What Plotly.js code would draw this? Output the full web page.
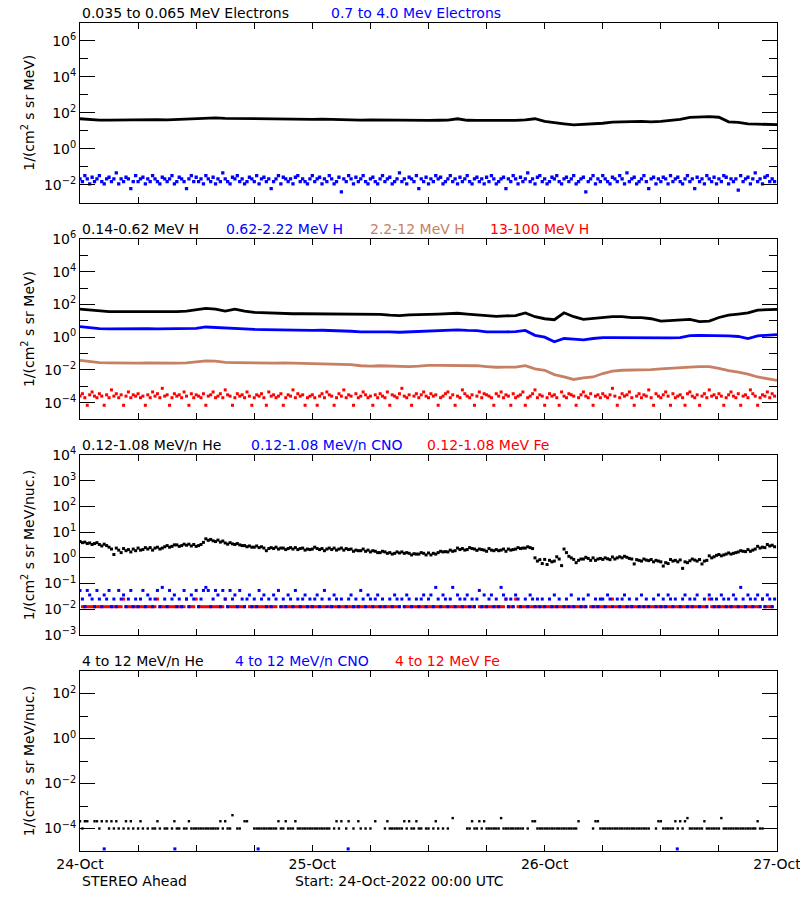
<!DOCTYPE html>
<html>
<head>
<meta charset="utf-8">
<script src="https://cdn.plot.ly/plotly-3.0.1.min.js"></script>
<style>body{margin:0;background:#fff}#chart{width:800px;height:900px}</style>
</head>
<body>
<div id="chart"></div>
<script>
// ---------------- DATA ----------------
const START = '2022-10-24 00:00';
const END = '2022-10-27 00:00';
const HOURLY_MIN = 60;    // cadence of the smooth series
const QUARTER_MIN = 15;   // cadence of the scattered series

// Panel 1: electrons
const e_low_035_065 = [46,42,39,39,40,39,41,40,41,40,42,44,50,53,52,49,48,47,46,47,46,45,46,44,43,44,42,41,40,39,40,39,40,38,37,38,37,38,39,46,38,37,37,38,36,37,40,46,33,27,24,21,22,24,26,30,32,32,33,31,33,38,42,55,60,60,56,31,29,24,23,23,22];
const e_high_07_40 = [
 0.021,0.015,0.032,0.021,0.011,0.026,0.015,0.021,0.032,0.015,0.011,0.021,0.026,0.015,0.021,0.045,0.011,0.021,0.015,0.026,0.021,0.006,0.015,0.032,
 0.015,0.021,0.026,0.011,0.021,0.015,0.032,0.021,0.015,0.011,0.026,0.021,0.015,0.021,0.032,0.011,0.015,0.026,0.021,0.015,0.006,0.021,0.032,0.015,
 0.026,0.015,0.021,0.011,0.032,0.021,0.015,0.026,0.011,0.021,0.015,0.045,0.021,0.015,0.011,0.026,0.021,0.032,0.015,0.021,0.011,0.015,0.026,0.021,
 0.015,0.032,0.011,0.021,0.026,0.015,0.021,0.006,0.015,0.021,0.032,0.011,0.026,0.021,0.015,0.021,0.011,0.026,0.032,0.015,0.021,0.015,0.011,0.021,
 0.032,0.015,0.021,0.026,0.011,0.021,0.015,0.032,0.021,0.011,0.015,0.026,0.004,0.021,0.015,0.032,0.021,0.011,0.026,0.015,0.021,0.032,0.015,0.011,
 0.021,0.026,0.015,0.011,0.021,0.032,0.015,0.021,0.026,0.011,0.015,0.021,0.045,0.015,0.021,0.011,0.026,0.021,0.015,0.032,0.006,0.021,0.015,0.026,
 0.011,0.021,0.015,0.032,0.021,0.026,0.011,0.015,0.021,0.032,0.015,0.021,0.011,0.026,0.015,0.021,0.032,0.015,0.011,0.021,0.026,0.015,0.021,0.011,
 0.026,0.015,0.032,0.021,0.011,0.015,0.021,0.026,0.006,0.021,0.015,0.032,0.021,0.011,0.026,0.015,0.021,0.045,0.015,0.021,0.011,0.026,0.032,0.015,
 0.021,0.011,0.015,0.026,0.021,0.032,0.015,0.011,0.021,0.026,0.015,0.021,0.032,0.011,0.015,0.021,0.026,0.004,0.015,0.021,0.032,0.011,0.021,0.015,
 0.032,0.021,0.015,0.011,0.026,0.021,0.015,0.032,0.021,0.011,0.045,0.015,0.021,0.026,0.011,0.015,0.021,0.032,0.015,0.006,0.021,0.026,0.011,0.021,
 0.015,0.026,0.021,0.011,0.032,0.015,0.021,0.026,0.015,0.011,0.021,0.032,0.015,0.021,0.006,0.026,0.015,0.021,0.011,0.032,0.021,0.015,0.026,0.011,
 0.021,0.015,0.032,0.026,0.011,0.021,0.015,0.021,0.005,0.032,0.015,0.021,0.026,0.011,0.021,0.045,0.015,0.021,0.011,0.026,0.032,0.015,0.021,0.015];

// Panel 2: protons
const h_014_062 = [52,45,37.5,36,36,36,36,34,36,36,36,39,45,57,52,39,52,39,33,31,28,27,27,27,27,26,26,26,25,25,25,25,22,21,23,23,25,26,28,29,26,23,20.5,18.6,20,21,30,17.8,13.4,11.7,31,17.8,12.3,14,15.5,17.8,17.8,15.5,15.5,13.4,9.7,10.2,11.2,12.3,8.9,9.7,16,22,26,31,45,50,50];
const h_062_222 = [4.4,3.7,3.3,3.2,3.3,3.2,3.2,3.3,3.2,3.2,3.3,3.2,3.5,4.2,3.9,3.4,3.3,3.1,3.0,2.9,2.8,2.7,2.65,2.7,2.6,2.65,2.6,2.6,2.3,2.1,2.15,2.1,2.1,2.0,2.1,2.1,2.3,2.4,2.5,2.8,2.6,2.5,2.1,2.0,2.1,2.2,2.6,1.3,1.0,0.52,0.83,0.76,0.69,0.83,0.95,0.95,0.93,0.95,0.95,0.93,0.83,0.9,0.95,1.25,1.3,1.3,1.25,1.2,1.1,0.83,1.2,1.35,1.45];
const h_22_12 = [0.038,0.031,0.028,0.027,0.026,0.027,0.026,0.027,0.026,0.027,0.026,0.027,0.030,0.036,0.034,0.029,0.028,0.027,0.027,0.026,0.026,0.027,0.026,0.024,0.023,0.022,0.022,0.021,0.021,0.018,0.017,0.018,0.017,0.017,0.016,0.017,0.019,0.019,0.019,0.020,0.019,0.018,0.016,0.0145,0.015,0.015,0.018,0.0115,0.0095,0.0052,0.0037,0.0026,0.0033,0.0037,0.006,0.0083,0.0095,0.0095,0.0105,0.0105,0.0115,0.013,0.0145,0.015,0.016,0.016,0.0126,0.009,0.0072,0.0055,0.0037,0.0028,0.0023];
const h_13_100 = [
 2.5e-4,3.5e-4,2.0e-4,6.9e-5,3.0e-4,4.5e-4,2.5e-4,2.0e-4,3.5e-4,2.5e-4,6.9e-5,3.0e-4,2.0e-4,6.0e-4,2.5e-4,3.5e-4,2.0e-4,3.0e-4,6.9e-5,2.5e-4,4.5e-4,2.0e-4,3.0e-4,2.5e-4,
 3.5e-4,2.0e-4,2.5e-4,6.9e-5,3.0e-4,2.0e-4,4.5e-4,2.5e-4,3.5e-4,2.0e-4,7.5e-4,2.5e-4,3.0e-4,6.9e-5,2.0e-4,3.5e-4,2.5e-4,3.0e-4,2.0e-4,4.5e-4,2.5e-4,6.9e-5,3.5e-4,2.0e-4,
 3.0e-4,2.5e-4,2.0e-4,3.5e-4,6.9e-5,2.5e-4,3.0e-4,4.5e-4,2.0e-4,2.5e-4,3.5e-4,2.0e-4,6.0e-4,3.0e-4,2.5e-4,6.9e-5,2.0e-4,3.5e-4,2.5e-4,3.0e-4,2.0e-4,4.5e-4,2.5e-4,6.9e-5,
 2.0e-4,3.0e-4,2.5e-4,3.5e-4,2.0e-4,6.9e-5,4.5e-4,2.5e-4,3.0e-4,2.0e-4,2.5e-4,3.5e-4,6.9e-5,2.0e-4,3.0e-4,2.5e-4,6.0e-4,2.0e-4,3.5e-4,2.5e-4,3.0e-4,6.9e-5,2.0e-4,2.5e-4,
 3.0e-4,2.0e-4,6.9e-5,2.5e-4,3.5e-4,2.0e-4,4.5e-4,3.0e-4,2.5e-4,6.9e-5,2.0e-4,3.5e-4,2.5e-4,6.0e-4,2.0e-4,3.0e-4,2.5e-4,6.9e-5,3.5e-4,2.0e-4,2.5e-4,4.5e-4,3.0e-4,2.0e-4,
 2.5e-4,6.9e-5,3.0e-4,2.0e-4,3.5e-4,2.5e-4,2.0e-4,4.5e-4,6.9e-5,3.0e-4,2.5e-4,2.0e-4,3.5e-4,7.5e-4,2.5e-4,2.0e-4,3.0e-4,6.9e-5,2.5e-4,3.5e-4,2.0e-4,3.0e-4,4.5e-4,2.5e-4,
 2.0e-4,3.5e-4,2.5e-4,3.0e-4,6.9e-5,2.0e-4,2.5e-4,3.5e-4,4.5e-4,2.0e-4,3.0e-4,6.9e-5,2.5e-4,2.0e-4,6.0e-4,3.5e-4,2.5e-4,2.0e-4,3.0e-4,6.9e-5,2.5e-4,4.5e-4,2.0e-4,3.5e-4,
 3.0e-4,2.5e-4,2.0e-4,6.9e-5,3.5e-4,2.5e-4,4.5e-4,2.0e-4,3.0e-4,2.5e-4,6.9e-5,3.5e-4,2.0e-4,2.5e-4,3.0e-4,4.5e-4,6.9e-5,2.0e-4,2.5e-4,3.5e-4,6.0e-4,2.0e-4,3.0e-4,2.5e-4,
 6.9e-5,2.0e-4,3.5e-4,2.5e-4,3.0e-4,2.0e-4,6.9e-5,4.5e-4,2.5e-4,2.0e-4,3.5e-4,3.0e-4,2.5e-4,6.9e-5,2.0e-4,3.0e-4,4.5e-4,2.5e-4,2.0e-4,3.5e-4,6.9e-5,2.5e-4,3.0e-4,2.0e-4,
 3.5e-4,2.5e-4,2.0e-4,3.0e-4,7.5e-4,2.5e-4,6.9e-5,2.0e-4,3.5e-4,2.5e-4,3.0e-4,4.5e-4,2.0e-4,6.9e-5,2.5e-4,3.5e-4,2.0e-4,3.0e-4,2.5e-4,6.0e-4,2.0e-4,6.9e-5,3.5e-4,2.5e-4,
 2.0e-4,3.0e-4,4.5e-4,2.5e-4,6.9e-5,3.5e-4,2.0e-4,2.5e-4,3.0e-4,2.0e-4,6.9e-5,3.5e-4,4.5e-4,2.5e-4,2.0e-4,3.0e-4,6.9e-5,2.5e-4,3.5e-4,2.0e-4,6.0e-4,2.5e-4,3.0e-4,2.0e-4,
 3.5e-4,2.5e-4,6.9e-5,2.0e-4,3.0e-4,4.5e-4,2.5e-4,2.0e-4,3.5e-4,6.9e-5,2.5e-4,3.0e-4,2.0e-4,6.0e-4,3.5e-4,2.5e-4,6.9e-5,2.0e-4,3.0e-4,2.5e-4,4.5e-4,2.0e-4,3.5e-4,2.5e-4];

// Panel 3: 0.12-1.08 MeV/n heavy ions
const he_012_108 = [
 4.3,3.9,4.1,3.6, 3.8,3.3,3.6,3.9, 3.3,2.9,3.4,3.0, 2.6,2.2,1.35,2.4, 2.0,1.6,2.3,1.9, 2.1,1.7,2.2,1.9,
 2.4,2.0,2.1,2.5, 2.2,2.5,2.0,2.4, 2.6,2.2,2.4,2.7, 3.0,2.6,2.8,3.2, 3.2,2.8,3.0,3.4, 3.1,3.4,2.9,3.3,
 2.8,3.0,3.3,4.0, 5.5,4.8,5.2,4.6, 4.3,4.9,4.1,4.5, 3.8,3.4,3.9,3.5, 3.3,3.6,3.2,3.0, 3.0,2.7,2.9,2.6,
 2.6,2.9,2.5,2.7, 2.4,1.9,2.3,2.5, 2.3,2.6,2.2,2.4, 2.4,2.1,2.3,2.5, 2.2,2.5,2.1,2.3, 2.4,2.0,2.2,2.1,
 2.2,2.6,2.3,2.1, 2.3,1.9,2.2,2.4, 2.1,2.4,2.0,2.2, 2.4,2.0,2.3,2.1, 2.2,1.8,2.0,1.9, 1.9,2.2,1.8,2.0,
 1.7,1.9,1.8,1.6, 1.6,1.8,1.7,1.5, 1.6,1.4,1.5,1.7, 1.55,1.7,1.5,1.6, 1.5,1.3,1.45,1.4, 1.4,1.6,1.5,1.3,
 1.55,1.3,1.5,1.4, 1.6,1.8,1.7,1.75, 1.7,2.0,1.8,1.9, 2.4,2.1,2.3,2.0, 2.1,2.5,2.3,2.2, 1.95,2.2,2.1,2.0,
 1.8,2.3,2.0,1.9, 2.1,1.9,2.0,2.2, 1.8,2.2,2.0,2.1, 2.2,2.5,2.3,2.4, 2.4,2.7,2.5,2.3, 1.0,0.75,0.85,0.6,
 0.87,0.55,0.8,0.7, 0.75,1.1,0.9,0.5, 2.2,1.6,1.15,1.0, 0.87,0.65,0.8,0.9, 0.9,1.05,0.95,0.8, 1.0,0.8,0.9,0.95,
 0.87,1.0,0.92,0.85, 1.08,0.9,1.0,1.1, 1.0,1.15,1.05,0.95, 0.9,0.58,0.85,0.8, 0.75,0.9,0.82,0.78, 0.86,0.7,0.8,0.75,
 0.7,0.48,0.65,0.6, 0.86,0.75,0.8,0.7, 0.83,0.39,0.7,0.65, 0.77,0.9,0.82,0.75, 0.86,0.58,0.75,0.8, 1.2,1.0,1.1,1.25,
 1.35,1.2,1.3,1.4, 1.55,1.4,1.5,1.6, 1.7,1.9,1.8,1.75, 2.1,1.8,2.0,2.2, 2.8,2.4,2.6,2.5, 3.3,2.9,3.1,2.7];
const cno_012_108 = [
 0.054,0.025,0.0126,0.054,0.036,0.025,0.0126,0.054,0.025,0.0126,0.036,0.025,0.054,0.0126,0.025,0.0126,0.054,0.025,0.036,0.0126,0.025,0.054,0.0126,0.025,
 0.0126,0.025,0.054,0.0126,0.036,0.025,0.0126,0.025,0.054,0.0126,0.071,0.025,0.0126,0.054,0.025,0.036,0.0126,0.025,0.0126,0.054,0.025,0.0126,0.036,0.025,
 0.054,0.0126,0.025,0.054,0.071,0.054,0.0126,0.025,0.054,0.036,0.0126,0.054,0.025,0.0126,0.054,0.025,0.036,0.0126,0.054,0.025,0.0126,0.025,0.036,0.0126,
 0.025,0.0126,0.054,0.025,0.036,0.0126,0.025,0.0126,0.036,0.025,0.054,0.0126,0.025,0.0126,0.036,0.025,0.0126,0.054,0.025,0.0126,0.025,0.036,0.0126,0.025,
 0.0126,0.025,0.036,0.0126,0.025,0.054,0.0126,0.025,0.0126,0.036,0.025,0.0126,0.025,null,0.0126,0.025,0.036,0.0126,0.025,0.0126,0.054,0.025,0.0126,0.036,
 0.025,0.0126,0.025,0.036,0.0126,0.025,0.0126,null,0.025,0.0126,0.036,0.025,0.0126,0.025,0.0126,0.036,0.025,0.0126,null,0.025,0.0126,0.025,0.036,0.0126,
 0.025,0.036,0.0126,0.071,0.025,0.0126,0.036,0.025,0.0126,0.025,0.071,0.0126,0.036,0.025,0.0126,0.025,0.036,0.0126,0.025,0.0126,0.025,0.054,0.0126,0.036,
 0.0126,0.025,0.036,0.0126,0.025,0.0126,0.071,0.036,0.025,0.0126,0.025,0.0126,0.036,0.025,0.0126,null,0.025,0.0126,0.036,0.025,0.0126,0.025,0.0126,0.025,
 0.0126,null,0.025,0.0126,0.036,0.0126,0.025,null,0.0126,0.025,0.0126,0.036,0.0126,null,0.025,0.0126,0.025,0.0126,0.036,null,0.0126,0.025,0.0126,0.025,
 0.025,0.0126,0.036,0.025,0.0126,null,0.025,0.0126,0.025,0.036,0.0126,0.025,0.0126,null,0.025,0.0126,0.036,0.0126,0.025,0.0126,null,0.025,0.0126,0.036,
 0.0126,0.025,0.0126,0.036,0.025,0.0126,0.025,null,0.0126,0.025,0.036,0.0126,0.025,0.0126,0.025,0.036,0.0126,null,0.025,0.0126,0.036,0.025,0.0126,0.025,
 0.0126,0.036,0.025,0.0126,0.025,0.0126,0.036,0.025,0.0126,0.071,0.025,0.0126,0.036,0.025,0.0126,0.025,0.036,0.0126,0.025,0.0126,0.036,0.025,0.0126,0.025];
const fe_012_108 = [
 null,0.0126,0.0126,0.0126,0.0126,0.0126,0.0126,0.0126,0.0126,0.0126,0.0126,0.0126,0.0126,0.0126,0.0126,0.0126,0.0126,0.0126,0.025,0.0126,0.0126,0.0126,0.0126,0.0126,
 0.0126,0.0126,0.0126,0.0126,0.0126,0.0126,0.0126,0.0126,0.025,0.0126,0.0126,0.0126,0.0126,0.0126,0.0126,0.0126,0.0126,0.0126,0.0126,0.0126,0.025,0.0126,0.0126,0.0126,
 0.025,0.0126,0.0126,0.0126,0.0126,0.0126,0.0126,0.0126,0.0126,0.0126,0.0126,0.0126,0.025,0.0126,0.0126,0.0126,0.0126,0.0126,0.0126,0.0126,0.0126,null,0.0126,0.0126,
 0.0126,0.0126,0.0126,0.0126,0.0126,0.0126,0.0126,0.0126,0.0126,0.0126,null,0.0126,0.0126,0.0126,0.0126,0.0126,0.0126,0.0126,0.0126,0.0126,0.0126,0.0126,0.0126,0.0126,
 0.0126,0.0126,0.0126,0.0126,0.0126,0.0126,null,0.0126,0.0126,0.0126,0.0126,0.0126,0.0126,0.0126,0.0126,0.0126,0.0126,0.0126,0.0126,0.0126,0.0126,0.0126,0.0126,0.0126,
 0.0126,0.0126,0.0126,0.0126,0.0126,0.0126,0.0126,0.0126,0.0126,0.0126,0.0126,0.0126,0.0126,null,0.0126,0.0126,0.0126,0.0126,0.0126,0.0126,0.0126,0.0126,0.0126,0.0126,
 0.0126,0.0126,0.0126,0.0126,0.0126,0.0126,0.0126,0.0126,0.0126,0.0126,0.0126,0.0126,0.0126,0.0126,0.0126,0.0126,0.0126,0.0126,0.0126,0.0126,null,0.0126,0.0126,0.0126,
 0.0126,0.0126,0.0126,0.0126,0.0126,0.0126,0.0126,0.0126,0.025,0.0126,0.0126,0.0126,0.025,0.0126,0.0126,0.0126,0.0126,0.0126,0.0126,0.0126,0.0126,0.0126,0.0126,0.0126,
 0.0126,0.0126,0.0126,0.0126,0.0126,0.0126,0.0126,0.0126,0.0126,0.0126,0.0126,0.0126,0.0126,0.0126,0.0126,0.0126,0.0126,0.0126,null,0.0126,0.0126,0.0126,0.0126,0.0126,
 0.0126,0.0126,0.0126,0.0126,0.025,0.0126,0.0126,0.0126,0.0126,0.0126,0.0126,0.0126,0.0126,0.0126,0.0126,0.0126,0.0126,0.0126,0.0126,0.0126,0.0126,0.0126,0.0126,0.0126,
 0.0126,0.0126,0.0126,0.0126,0.0126,0.0126,0.0126,0.0126,0.0126,0.0126,0.0126,0.0126,0.0126,0.0126,0.0126,0.0126,0.0126,0.0126,0.0126,0.0126,0.025,0.0126,0.0126,0.0126,
 0.0126,0.0126,0.0126,0.0126,0.0126,0.0126,0.0126,0.0126,0.0126,0.0126,0.0126,0.0126,0.0126,0.0126,0.0126,0.0126,0.0126,0.0126,0.025,0.0126,0.0126,0.0126,0.0126,null];

// Panel 4: 4-12 MeV/n heavy ions
const he_4_12 = [
 2.1e-4,1e-4,2.1e-4,2.1e-4, null,null,2.1e-4,2.1e-4, 1e-4,2.1e-4,null,2.1e-4, 1e-4,2.1e-4,1e-4,2.1e-4, 1e-4,null,1e-4,2.1e-4, 1e-4,2.1e-4,1e-4,null,
 1e-4,2.1e-4,1e-4,null, 1e-4,null,1e-4,1e-4, 2.1e-4,1e-4,null,1e-4, 1e-4,null,1e-4,2.1e-4, 1e-4,1e-4,null,1e-4, 1e-4,2.1e-4,1e-4,1e-4,
 1e-4,1e-4,1e-4,1e-4, 1e-4,1e-4,1e-4,1e-4, 1e-4,1e-4,2.1e-4,1e-4, 2.1e-4,1e-4,1e-4,3.9e-4, null,1e-4,1e-4,null, 2.1e-4,2.1e-4,null,null,
 1e-4,1e-4,1e-4,1e-4, 1e-4,1e-4,1e-4,1e-4, 1e-4,1e-4,2.1e-4,1e-4, 1e-4,2.1e-4,1e-4,1e-4, 1e-4,2.1e-4,1e-4,1e-4, 1e-4,1e-4,1e-4,1e-4,
 1e-4,1e-4,1e-4,1e-4, 1e-4,1e-4,1e-4,1e-4, null,1e-4,2.1e-4,1e-4, 2.1e-4,null,1e-4,2.1e-4, null,1e-4,null,2.1e-4, 1e-4,null,1e-4,null,
 1e-4,null,2.1e-4,null, null,null,1e-4,2.1e-4, 1e-4,1e-4,1e-4,1e-4, 1e-4,1e-4,2.1e-4,1e-4, 2.1e-4,1e-4,1e-4,2.1e-4, 1e-4,1e-4,null,1e-4,
 1e-4,null,1e-4,2.1e-4, 1e-4,null,1e-4,null, 1e-4,null,2.9e-4,null, null,null,null,null, 1e-4,1e-4,2.1e-4,1e-4, 1e-4,2.1e-4,1e-4,2.1e-4,
 1e-4,1e-4,1e-4,1e-4, 1e-4,1e-4,2.9e-4,1e-4, 1e-4,1e-4,1e-4,1e-4, 1e-4,1e-4,1e-4,1e-4, null,1e-4,null,2.1e-4, 2.1e-4,1e-4,1e-4,1e-4,
 1e-4,1e-4,1e-4,1e-4, 1e-4,1e-4,1e-4,1e-4, 1e-4,1e-4,1e-4,1e-4, 1e-4,1e-4,2.1e-4,null, null,null,null,null, 1e-4,2.1e-4,2.1e-4,1e-4,
 1e-4,1e-4,1e-4,1e-4, 1e-4,1e-4,1e-4,1e-4, 1e-4,1e-4,1e-4,1e-4, 1e-4,1e-4,1e-4,1e-4, 1e-4,1e-4,1e-4,1e-4, null,null,1e-4,2.1e-4,
 2.1e-4,1e-4,1e-4,1e-4, 1e-4,1e-4,2.1e-4,1e-4, 2.1e-4,1e-4,2.1e-4,2.9e-4, 1e-4,1e-4,1e-4,1e-4, 1e-4,1e-4,2.1e-4,1e-4, 1e-4,1e-4,1e-4,1e-4,
 1e-4,2.9e-4,1e-4,1e-4, 1e-4,1e-4,1e-4,1e-4, 1e-4,1e-4,1e-4,1e-4, 1e-4,1e-4,1e-4,1e-4, 2.1e-4,1e-4,1e-4,null, null,null,null,null];
const cno_4_12_hours = [2.5, 9.8, 18.4, 27.7, 61.7];
const cno_4_12 = [1.24e-5, 1.24e-5, 1.24e-5, 1.24e-5, 1.24e-5];

// Tick labels (powers of ten)
const p1_major = [-2,0,2,4,6], p1_minor = [-1,1,3,5];
const p2_major = [-4,-2,0,2,4,6], p2_minor = [-3,-1,1,3,5];
const p3_major = [-3,-2,-1,0,1,2,3,4], p3_minor = [];
const p4_major = [-4,-2,0,2], p4_minor = [-3,-1,1];

// ---------------- BUILD ----------------
const T0 = Date.parse('2022-10-24T00:00:00Z');
function fmt(ms){ return new Date(ms).toISOString().slice(0,19).replace('T',' '); }
function cadence(n, minutes){ const out=[]; for(let i=0;i<n;i++) out.push(fmt(T0 + i*minutes*60000)); return out; }
function fromHours(hs){ return hs.map(h => fmt(T0 + h*3600000)); }

const BLACK='#000000', BLUE='#0000ff', BROWN='rgb(200,128,100)', RED='#ff0000';
const FONT = {family:'DejaVu Sans, sans-serif', size:14, color:BLACK};

function lineTrace(y, min, color, xa, ya, name){
  return {x:cadence(y.length,min), y, type:'scatter', mode:'lines', name,
          line:{color, width:2.8}, xaxis:xa, yaxis:ya, hoverinfo:'skip'};
}
function dotTrace(x, y, color, xa, ya, name, size){
  return {x, y, type:'scatter', mode:'markers', name,
          marker:{color, symbol:'square', size:size||3, line:{width:0}}, xaxis:xa, yaxis:ya, hoverinfo:'skip'};
}

const traces = [
  lineTrace(e_low_035_065, HOURLY_MIN, BLACK, 'x', 'y', '0.035 to 0.065 MeV Electrons'),
  dotTrace(cadence(e_high_07_40.length,QUARTER_MIN), e_high_07_40, BLUE, 'x', 'y', '0.7 to 4.0 Mev Electrons', 3.3),
  dotTrace(cadence(h_13_100.length,QUARTER_MIN), h_13_100, RED, 'x2', 'y2', '13-100 MeV H', 3),
  lineTrace(h_22_12, HOURLY_MIN, BROWN, 'x2', 'y2', '2.2-12 MeV H'),
  lineTrace(h_062_222, HOURLY_MIN, BLUE, 'x2', 'y2', '0.62-2.22 MeV H'),
  lineTrace(h_014_062, HOURLY_MIN, BLACK, 'x2', 'y2', '0.14-0.62 MeV H'),
  dotTrace(cadence(fe_012_108.length,QUARTER_MIN), fe_012_108, RED, 'x3', 'y3', '0.12-1.08 MeV Fe', 3),
  dotTrace(cadence(cno_012_108.length,QUARTER_MIN), cno_012_108, BLUE, 'x3', 'y3', '0.12-1.08 MeV/n CNO', 3),
  dotTrace(cadence(he_012_108.length,QUARTER_MIN), he_012_108, BLACK, 'x3', 'y3', '0.12-1.08 MeV/n He', 3),
  dotTrace(cadence(he_4_12.length,QUARTER_MIN), he_4_12, BLACK, 'x4', 'y4', '4 to 12 MeV/n He', 2.4),
  dotTrace(fromHours(cno_4_12_hours), cno_4_12, BLUE, 'x4', 'y4', '4 to 12 MeV/n CNO', 3)
];

const XD = [80/800, 777/800];
function yd(top, bottom){ return [1-bottom/900, 1-top/900]; }
function xAxis(anchor, labels){
  return {type:'date', domain:XD, anchor, range:[START, END], showline:true, linecolor:BLACK, linewidth:1,
    mirror:'allticks', ticks:'inside', ticklen:6, tickwidth:1, tickcolor:BLACK,
    tick0:START, dtick:86400000, tickformat:'%d-%b', showticklabels:labels, ticklabeloverflow:'allow',
    tickfont:FONT, showgrid:false, zeroline:false,
    minor:{dtick:21600000, tick0:START, ticks:'inside', ticklen:6, tickwidth:1, tickcolor:BLACK, showgrid:false}};
}
function sup(e){ return '10<sup>' + (e<0 ? '\u2212' + (-e) : e) + '</sup>'; }
function yAxis(anchor, domain, lo, hi, major, minor, title){
  const a = {type:'log', domain, anchor, range:[lo,hi], tickmode:'array',
    tickvals:major.map(e=>Math.pow(10,e)), ticktext:major.map(sup),
    showline:true, linecolor:BLACK, linewidth:1, mirror:'allticks', ticks:'inside', ticklen:15, tickwidth:1,
    tickcolor:BLACK, tickfont:FONT, showgrid:false, zeroline:false,
    title:{text:title, font:FONT, standoff:6}};
  if (minor.length) a.minor = {tickmode:'array', tickvals:minor.map(e=>Math.pow(10,e)), ticks:'inside',
    ticklen:8, tickwidth:1, tickcolor:BLACK, showgrid:false};
  return a;
}
const T_E = '1/(cm<sup>2</sup> s sr MeV)';
const T_N = '1/(cm<sup>2</sup> s sr MeV/nuc.)';

function label(text, px, py, color){
  return {text, x:px/800, y:1-py/900, xref:'paper', yref:'paper', xanchor:'left', yanchor:'middle',
          showarrow:false, font:{family:FONT.family, size:14, color}};
}

const layout = {
  width:800, height:900, margin:{l:0,r:0,t:0,b:0}, paper_bgcolor:'#fff', plot_bgcolor:'#fff',
  showlegend:false, font:FONT,
  xaxis:xAxis('y', false), xaxis2:xAxis('y2', false), xaxis3:xAxis('y3', false), xaxis4:xAxis('y4', true),
  yaxis:yAxis('x', yd(22.7,202.7), -3, 7, p1_major, p1_minor, T_E),
  yaxis2:yAxis('x2', yd(239,419), -5, 6, p2_major, p2_minor, T_E),
  yaxis3:yAxis('x3', yd(455,635), -3, 4, p3_major, p3_minor, T_N),
  yaxis4:yAxis('x4', yd(671,851), -5, 3, p4_major, p4_minor, T_N),
  annotations:[
    label('0.035 to 0.065 MeV Electrons', 80, 13, BLACK),
    label('0.7 to 4.0 Mev Electrons', 329, 13, BLUE),
    label('0.14-0.62 MeV H', 80, 229, BLACK),
    label('0.62-2.22 MeV H', 224, 229, BLUE),
    label('2.2-12 MeV H', 368, 229, BROWN),
    label('13-100 MeV H', 488, 229, RED),
    label('0.12-1.08 MeV/n He', 80, 445, BLACK),
    label('0.12-1.08 MeV/n CNO', 249, 445, BLUE),
    label('0.12-1.08 MeV Fe', 425, 445, RED),
    label('4 to 12 MeV/n He', 80, 661, BLACK),
    label('4 to 12 MeV/n CNO', 233, 661, BLUE),
    label('4 to 12 MeV Fe', 393, 661, RED),
    label('STEREO Ahead', 80, 881, BLACK),
    label('Start: 24-Oct-2022 00:00 UTC', 293, 881, BLACK)
  ]
};

Plotly.newPlot('chart', traces, layout, {staticPlot:true, displayModeBar:false});
</script>
</body>
</html>
